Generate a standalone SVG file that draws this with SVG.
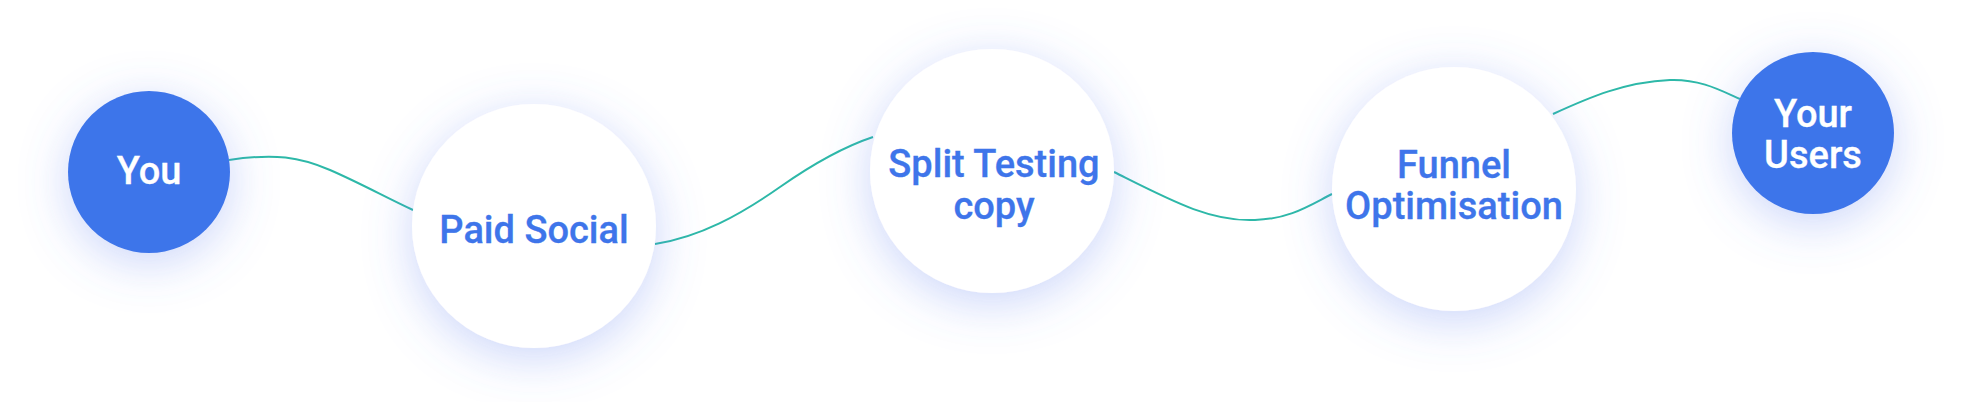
<svg xmlns="http://www.w3.org/2000/svg" width="1962" height="402" viewBox="0 0 1962 402">
  <defs>
    <filter id="glow" x="-70%" y="-70%" width="240%" height="240%">
      <feDropShadow dx="0" dy="10" stdDeviation="24" flood-color="#5b7ff0" flood-opacity="0.32"/>
    </filter>
  </defs>
  <style>
    .blue { fill: #3e75ea; filter: url(#glow); }
    .white { fill: #ffffff; filter: url(#glow); }
    .lbl { font-family: Roboto, "Liberation Sans", sans-serif; font-weight: 500; font-size: 38px; text-anchor: middle; stroke-width: 0.3; }
    .lw { fill: #ffffff; stroke: #ffffff; }
    .lb { fill: #3e75ea; stroke: #3e75ea; }
    .conn path { fill: none; stroke: #2db8a8; stroke-width: 2; }
  </style>
  <rect width="1962" height="402" fill="#ffffff"/>
  <g id="connectors" class="conn">
    <path d="M229,160 C275,153 300,157 330,170 C360,183 385,197 413,210"/>
    <path d="M655,244 C700,237 740,215 780,187 C810,166 840,148 873,137"/>
    <path d="M1114,172 C1170,200 1210,222 1255,220 C1290,219 1310,205 1332,194"/>
    <path d="M1553,114 C1590,97 1625,82 1670,80 C1700,79 1720,90 1740,99"/>
  </g>
  <g id="node-you">
    <circle class="blue" cx="149" cy="172" r="81"/>
    <text class="lbl lw" x="149" y="184">You</text>
  </g>
  <g id="node-paid-social">
    <circle class="white" cx="534" cy="226" r="122"/>
    <text class="lbl lb" x="534" y="243">Paid Social</text>
  </g>
  <g id="node-split-testing">
    <circle class="white" cx="992" cy="171" r="122"/>
    <text class="lbl lb" x="994" y="177">Split Testing</text>
    <text class="lbl lb" x="994" y="219">copy</text>
  </g>
  <g id="node-funnel">
    <circle class="white" cx="1454" cy="189" r="122"/>
    <text class="lbl lb" x="1454" y="178">Funnel</text>
    <text class="lbl lb" x="1454" y="219">Optimisation</text>
  </g>
  <g id="node-your-users">
    <circle class="blue" cx="1813" cy="133" r="81"/>
    <text class="lbl lw" x="1813" y="127">Your</text>
    <text class="lbl lw" x="1813" y="168">Users</text>
  </g>
</svg>
